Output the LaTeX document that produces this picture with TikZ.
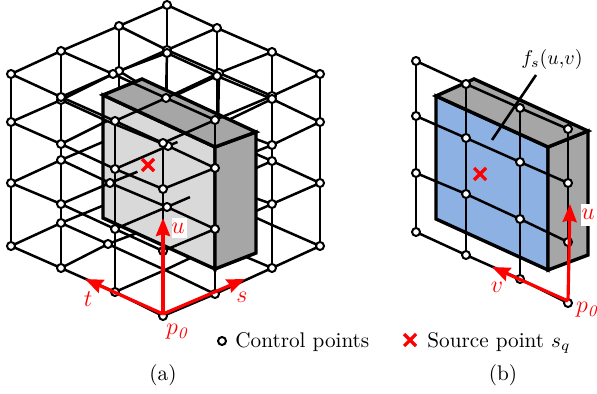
\documentclass[tikz,border=0pt]{standalone}
\usepackage{amsmath,amssymb}
\usepackage{xcolor}
\usetikzlibrary{arrows.meta,calc,shapes.misc}
\definecolor{cG}{HTML}{d9d9d9}
\definecolor{cH}{HTML}{a6a6a6}
\definecolor{cB}{HTML}{8db1e2}
\definecolor{cR}{HTML}{ff0000}
\tikzset{
  gridline/.style={line width=1.25pt,black},
  cpoint/.style={circle,draw=black,fill=white,line width=1pt,inner sep=0pt,minimum size=4pt},
  srcpoint/.style={cross out,draw=cR,line width=1.6pt,inner sep=0pt,minimum size=4.4pt},
  plate/.style={draw=black,line width=1.7pt,line join=miter},
  axis/.style={-{Stealth[length=9pt,width=7pt,inset=1pt]},line width=1.6pt,cR},
  axislabel/.style={cR,inner sep=0pt,font=\large},
  axisback/.style={fill=white,inner sep=0pt},
  txt/.style={inner sep=0pt,transform shape,scale=1.06},
}
\begin{document}
\begin{tikzpicture}[x=.5pt,y=-.5pt]
  \useasboundingbox (0,0) rectangle (597,394);
  % lattice of panel (a), names are n<i><j><k>
  \foreach \n/\x/\y in {
    003/163/143,103/215/120,203/272/96,303/320/74,
    013/115/121,113/166/98,213/219/73,313/272/52,
    023/61/97,123/113/74,223/167/50,323/217/28,
    033/11/74,133/61/51,233/119/26,333/167/5,
    002/163/189,102/215/168,202/272/145,302/320/122,
    012/115/169,112/168/146,212/218/125,312/272/99,
    022/61/144,122/107/121,222/166/100,322/217/76,
    032/11/122,132/61/100,232/119/71,332/167/53,
    001/163/251,101/215/229,201/272/204,301/320/183,
    011/115/229,111/167/207,211/218/185,311/272/161,
    021/61/204,121/110/183,221/166/160,321/217/137,
    031/11/183,131/61/160,231/119/135,331/167/113,
    000/163/316,100/215/294,200/272/268,300/320/246,
    010/115/292,110/165/270,210/218/245,310/272/225,
    020/61/268,120/108/244,220/166/222,320/217/200,
    030/11/246,130/61/223,230/119/199,330/167/178}{
    \coordinate (n\n) at (\x,\y);
  }
  % behind the plate
  \foreach \j in {0,...,3}{
    \foreach \k in {0,...,3}{
      \foreach \a/\b in {1/2,2/3}{
        \ifnum\a\j\k=210\relax\else
          \draw[gridline] (n\a\j\k) -- (n\b\j\k);
        \fi
      }
    }
  }
  \foreach \i in {2,3}{
    \foreach \c in {0,...,3}{
      \foreach \a/\b in {0/1,1/2,2/3}{
        \draw[gridline] (n\i\a\c) -- (n\i\b\c);
        \draw[gridline] (n\i\c\a) -- (n\i\c\b);
      }
    }
  }
  \foreach \n in {203,303,213,313,223,323,233,333,202,302,312,322,232,332,
                  201,301,311,200,300,122}{
    \node[cpoint] (d\n) at (n\n){};
  }
  % plate of panel (a)
  \coordinate (aA) at (103,95);
  \coordinate (aB) at (103,218);
  \coordinate (aC) at (215,269);
  \coordinate (aD) at (215,147);
  \coordinate (aE) at (256,132);
  \coordinate (aF) at (256,253);
  \coordinate (aG) at (142,79);
  \draw[plate,fill=cG] (aA) -- (aB) -- (aC) -- (aD) -- cycle;
  \draw[plate,fill=cH] (aD) -- (aC) -- (aF) -- (aE) -- cycle;
  \draw[plate,fill=cH] (aA) -- (aD) -- (aE) -- (aG) -- cycle;
  % in front of the plate
  \foreach \c in {0,...,3}{
    \foreach \d in {0,...,3}{
      \draw[gridline] (n0\c\d) -- (n1\c\d);
    }
    \foreach \a/\b in {0/1,1/2,2/3}{
      \draw[gridline] (n0\a\c) -- (n0\b\c);
      \draw[gridline] (n1\a\c) -- (n1\b\c);
      \draw[gridline] (n0\c\a) -- (n0\c\b);
    }
  }
  \foreach \a/\b in {0/1,1/2,2/3}{
    \draw[gridline] (n10\a) -- (n10\b);
    \draw[gridline] (n13\a) -- (n13\b);
  }
  \foreach \p/\q/\f in {n112/n212/.19,n111/n211/.45,n121/n221/.49,n113/n213/.18,n103/n203/.17}{
    \draw[gridline] (\p) -- ($(\p)!\f!(\q)$);
  }
  \foreach \n in {103,113,123,133,102,112,132,101,111,121,131,100,120,130,
                  003,013,023,033,002,012,022,032,001,011,021,031,000,010,020,030}{
    \node[cpoint] (d\n) at (n\n){};
  }
  \node[srcpoint] (srcA) at (148,165){};
  % axes of panel (a)
  \coordinate (pA) at (163,314);
  \coordinate (tA) at (85,279);
  \coordinate (sA) at (245,279);
  \coordinate (uA) at (163,218);
  \node[axisback,minimum width=7.5pt,minimum height=10pt] (uAback) at (179.5,228){};
  \draw[axis] (pA) -- (tA);
  \draw[axis] (pA) -- (sA);
  \draw[axis] (pA) -- (uA);
  \node[axislabel] (uAlabel) at (178,228){$u$};
  \node[axislabel] (tAlabel) at (88,299){$t$};
  \node[axislabel] (sAlabel) at (242,297){$s$};
  \node[axislabel] (pAlabel) at (178,332){$p_{\mathit{0}}$};
  % panel (b)
  \foreach \n/\x/\y in {
    00/416/61,10/466/84,20/520/108,30/568/129,
    01/416/116,11/466/138,21/520/162,31/568/183,
    02/416/173,12/466/194,22/520/219,32/568/242,
    03/416/232,13/466/255,23/520/279,33/568/303}{
    \coordinate (b\n) at (\x,\y);
  }
  \coordinate (bA) at (436,96);
  \coordinate (bB) at (436,219);
  \coordinate (bC) at (548,270);
  \coordinate (bD) at (548,147);
  \coordinate (bE) at (588,131);
  \coordinate (bF) at (588,255);
  \coordinate (bG) at (474,79);
  \draw[plate,fill=cB] (bA) -- (bB) -- (bC) -- (bD) -- cycle;
  \draw[plate,fill=cH] (bD) -- (bC) -- (bF) -- (bE) -- cycle;
  \draw[plate,fill=cH] (bA) -- (bD) -- (bE) -- (bG) -- cycle;
  \foreach \c in {0,...,3}{
    \foreach \a/\b in {0/1,1/2,2/3}{
      \draw[gridline] (b\a\c) -- (b\b\c);
      \draw[gridline] (b\c\a) -- (b\c\b);
    }
  }
  \foreach \i in {0,...,3}{
    \foreach \j in {0,...,3}{
      \node[cpoint] (e\i\j) at (b\i\j){};
    }
  }
  \node[srcpoint] (srcB) at (480,174){};
  \node[inner sep=0pt] (fs) at (552,60){$f_s(u{,}v)$};
  \coordinate (fsEnd) at (492,140);
  \draw[line width=1.3pt] (536,75) -- (fsEnd);
  % axes of panel (b)
  \coordinate (pB) at (568,301);
  \coordinate (vB) at (492,267);
  \coordinate (uB) at (570,204);
  \node[axisback,minimum width=8pt,minimum height=11pt] (uBback) at (589,215){};
  \draw[axis] (pB) -- (vB);
  \draw[axis] (pB) -- (uB);
  \node[axislabel] (uBlabel) at (588,214){$u$};
  \node[axislabel] (vBlabel) at (497,287){$v$};
  \node[axislabel] (pBlabel) at (588,310){$p_{\mathit{0}}$};
  % legend and captions
  \node[cpoint] (keyA) at (222,341){};
  \node[txt,anchor=base west] (keyAtext) at (235,347){Control points};
  \node[srcpoint] (keyB) at (410,340){};
  \node[txt,anchor=base west] (keyBtext) at (427,347){Source point $s_q$};
  \node[txt] (capA) at (163,375){(a)};
  \node[txt] (capB) at (503,375){(b)};
\end{tikzpicture}
\end{document}
